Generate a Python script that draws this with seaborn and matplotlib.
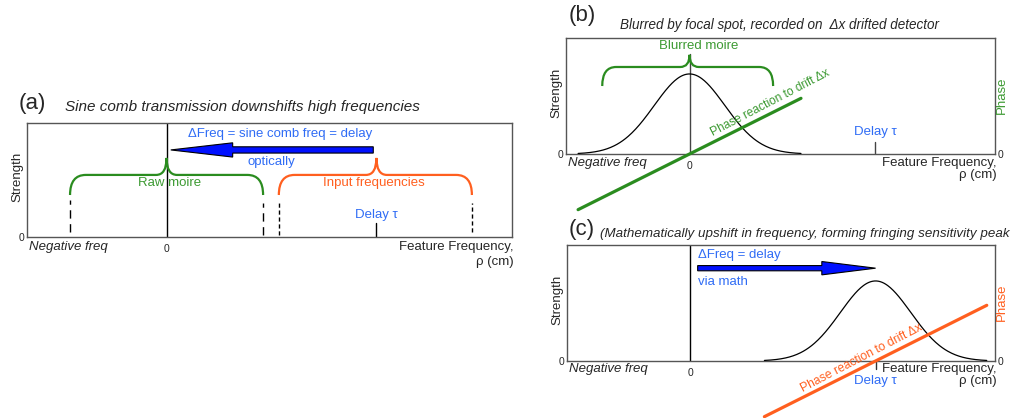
import numpy as np
import pandas as pd
import matplotlib
matplotlib.use("Agg")
import matplotlib.pyplot as plt
from matplotlib.path import Path
from matplotlib.patches import PathPatch, FancyArrow
import seaborn as sns

# ---- values of the sketch (frequency axis in units of the delay) ----
x_range = [-0.665, 1.645]
y_range = [0.0, 1.0]
delay = 1.0
bell_centers = {"b": 0.0, "c": 1.0}
bell_peak = 0.69
bell_sigma = 0.19
bell_halfspan = 0.6
phase_slope = 0.8
phase_halfspan = 0.6

raw_moire_span = [-0.46, 0.46]
input_freq_span = [0.535, 1.455]
blurred_moire_span = [-0.47, 0.45]

shift_a = [0.985, 0.02]     # optical downshift arrow (from, to)
shift_c = [0.04, 1.0]       # mathematical upshift arrow (from, to)

GREEN = "#2a8c1f"
GREEN_TXT = "#3c9a32"
ORANGE = "#ff5f1f"
BLUE_TXT = "#2f6cf5"
ARROW_BLUE = "#0010ff"
FRAME = "#555555"
LABEL_FS = 9.5
NOTE_FS = 9.5

sns.set_theme(style="white")
plt.rcParams["font.family"] = ["Liberation Sans", "DejaVu Sans"]

fig = plt.figure(figsize=(10.12, 4.18), dpi=100)
ax_a = fig.add_axes([0.0267, 0.433, 0.479, 0.273])
ax_b = fig.add_axes([0.5593, 0.6316, 0.424, 0.2775])
ax_c = fig.add_axes([0.5603, 0.1364, 0.423, 0.2775])


def frame(ax, label_y, unit_y, right_phase=None):
    ax.set_xlim(*x_range)
    ax.set_ylim(*y_range)
    for s in ax.spines.values():
        s.set_color(FRAME)
        s.set_linewidth(1.0)
    ax.set_xticks([0])
    ax.set_xticklabels(["0"], fontsize=7.5)
    ax.set_yticks([0])
    ax.set_yticklabels(["0"], fontsize=7.5)
    ax.tick_params(axis="x", length=0, pad=5)
    ax.tick_params(axis="y", length=0, pad=2)
    ax.text(0.005, label_y, "Negative freq", transform=ax.transAxes,
            fontsize=LABEL_FS, style="italic", ha="left", va="center")
    ax.text(1.003, label_y, "Feature Frequency,", transform=ax.transAxes,
            fontsize=LABEL_FS, ha="right", va="center")
    ax.text(1.003, unit_y, "\u03c1 (cm)", transform=ax.transAxes,
            fontsize=LABEL_FS, ha="right", va="center")
    if right_phase is not None:
        axr = ax.twinx()
        axr.set_ylim(*y_range)
        axr.set_yticks([0])
        axr.set_yticklabels(["0"], fontsize=7.5)
        axr.tick_params(axis="y", length=0, pad=1.5)
        for s in axr.spines.values():
            s.set_visible(False)
        ax.text(1.016, 0.51, "Phase", transform=ax.transAxes, color=right_phase,
                fontsize=LABEL_FS, rotation=90, ha="center", va="center")


def strength_label(ax):
    ax.set_xlabel("")
    ax.set_ylabel("Strength", fontsize=LABEL_FS)
    ax.yaxis.set_label_coords(-0.008, 0.53)


def brace(ax, x0, x1, xc, y_end, y_mid, y_tip, rx, rt, color, lw=1.6):
    verts = [(x0, y_end), (x0, y_mid), (x0 + rx, y_mid),
             (xc - rt, y_mid),
             (xc, y_mid), (xc, y_tip),
             (xc, y_mid), (xc + rt, y_mid),
             (x1 - rx, y_mid),
             (x1, y_mid), (x1, y_end)]
    codes = [Path.MOVETO, Path.CURVE3, Path.CURVE3,
             Path.LINETO,
             Path.CURVE3, Path.CURVE3,
             Path.CURVE3, Path.CURVE3,
             Path.LINETO,
             Path.CURVE3, Path.CURVE3]
    ax.add_patch(PathPatch(Path(verts, codes), fill=False, edgecolor=color,
                           linewidth=lw, capstyle="butt", zorder=3))


def bell(center):
    x = np.linspace(center - bell_halfspan, center + bell_halfspan, 241)
    y = bell_peak * np.exp(-0.5 * ((x - center) / bell_sigma) ** 2)
    return pd.DataFrame({"freq": x, "strength": y})


def phase_line(center):
    x = np.array([center - phase_halfspan, center + phase_halfspan])
    return pd.DataFrame({"freq": x, "phase": phase_slope * (x - center)})


def shift_arrow(ax, x_from, x_to, y, shaft, head_w, head_l):
    ax.add_patch(FancyArrow(x_from, y, x_to - x_from, 0, width=shaft,
                            head_width=head_w, head_length=head_l,
                            length_includes_head=True, facecolor=ARROW_BLUE,
                            edgecolor="black", linewidth=0.8, zorder=4))


# ---------------- (a) ----------------
frame(ax_a, -0.09, -0.22)
ax_a.axvline(0, color="black", lw=1.0, zorder=2)
ax_a.plot([delay, delay], [0, 0.123], color="black", lw=1.0)
brace(ax_a, raw_moire_span[0], raw_moire_span[1], 0.0, 0.368, 0.544, 0.693,
      0.075, 0.05, GREEN)
brace(ax_a, input_freq_span[0], input_freq_span[1], delay, 0.368, 0.544, 0.693,
      0.075, 0.05, ORANGE)
for xv, ylo, yhi, dash in [(raw_moire_span[0], 0.045, 0.325, (6, 4)),
                           (raw_moire_span[1], 0.02, 0.30, (6, 4)),
                           (input_freq_span[0], 0.02, 0.30, (3, 2)),
                           (input_freq_span[1], 0.045, 0.30, (3, 2))]:
    ax_a.plot([xv, xv], [ylo, yhi], color="black", lw=1.0, dashes=dash)
shift_arrow(ax_a, shift_a[0], shift_a[1], 0.763, 0.055, 0.125, 0.295)
strength_label(ax_a)
ax_a.text(0.54, 0.905, "\u0394Freq = sine comb freq = delay", color=BLUE_TXT,
          fontsize=NOTE_FS, ha="center", va="center")
ax_a.text(0.50, 0.655, "optically", color=BLUE_TXT, fontsize=NOTE_FS,
          ha="center", va="center")
ax_a.text(0.015, 0.47, "Raw moire", color=GREEN_TXT, fontsize=NOTE_FS,
          ha="center", va="center")
ax_a.text(0.99, 0.47, "Input frequencies", color=ORANGE, fontsize=NOTE_FS,
          ha="center", va="center")
ax_a.text(1.0, 0.19, "Delay \u03c4", color=BLUE_TXT, fontsize=NOTE_FS,
          ha="center", va="center")
fig.text(0.018, 0.752, "(a)", fontsize=16, ha="left", va="center")
fig.text(0.064, 0.745, "Sine comb transmission downshifts high frequencies",
         fontsize=11, style="italic", ha="left", va="center")

# ---------------- (b) ----------------
frame(ax_b, -0.08, -0.185, right_phase=GREEN_TXT)
ax_b.plot([0, 0], [0, 0.86], color="#444444", lw=1.0, zorder=2)
ax_b.plot([delay, delay], [0, 0.10], color="#444444", lw=1.0)
sns.lineplot(data=bell(bell_centers["b"]), x="freq", y="strength", ax=ax_b,
             color="black", lw=0.9, zorder=3)
sns.lineplot(data=phase_line(bell_centers["b"]), x="freq", y="phase", ax=ax_b,
             color=GREEN, lw=2.3, zorder=4, clip_on=False)
brace(ax_b, blurred_moire_span[0], blurred_moire_span[1], 0.0, 0.586, 0.75, 0.855,
      0.075, 0.05, GREEN)
strength_label(ax_b)
ax_b.text(0.05, 0.935, "Blurred moire", color=GREEN_TXT, fontsize=NOTE_FS,
          ha="center", va="center")
ax_b.text(1.0, 0.19, "Delay \u03c4", color=BLUE_TXT, fontsize=NOTE_FS,
          ha="center", va="center")
ax_b.text(0.435, 0.44, "Phase reaction to drift \u0394x", color=GREEN_TXT,
          fontsize=8.6, ha="center", va="center", rotation=27.5,
          rotation_mode="anchor")
fig.text(0.562, 0.962, "(b)", fontsize=16, ha="left", va="center")
fig.text(0.613, 0.94, "Blurred by focal spot, recorded on  \u0394x drifted detector",
         fontsize=9.75, style="italic", ha="left", va="center")

# ---------------- (c) ----------------
frame(ax_c, -0.065, -0.175, right_phase=ORANGE)
ax_c.axvline(0, color="black", lw=1.0, zorder=2)
ax_c.plot([delay, delay], [0, -0.07], color="#333333", lw=1.0, clip_on=False)
sns.lineplot(data=bell(bell_centers["c"]), x="freq", y="strength", ax=ax_c,
             color="black", lw=0.9, zorder=3)
sns.lineplot(data=phase_line(bell_centers["c"]), x="freq", y="phase", ax=ax_c,
             color=ORANGE, lw=2.3, zorder=4, clip_on=False)
strength_label(ax_c)
shift_arrow(ax_c, shift_c[0], shift_c[1], 0.80, 0.045, 0.115, 0.29)
ax_c.text(0.04, 0.915, "\u0394Freq = delay", color=BLUE_TXT, fontsize=NOTE_FS,
          ha="left", va="center")
ax_c.text(0.04, 0.685, "via math", color=BLUE_TXT, fontsize=NOTE_FS,
          ha="left", va="center")
ax_c.text(1.0, -0.17, "Delay \u03c4", color=BLUE_TXT, fontsize=NOTE_FS,
          ha="center", va="center")
ax_c.text(0.925, 0.026, "Phase reaction to drift \u0394x", color=ORANGE,
          fontsize=8.7, ha="center", va="center", rotation=27.5,
          rotation_mode="anchor")
fig.text(0.562, 0.452, "(c)", fontsize=16, ha="left", va="center")
fig.text(0.593, 0.44, "(Mathematically upshift in frequency, forming fringing sensitivity peak",
         fontsize=9.6, style="italic", ha="left", va="center")

fig.savefig("out.png", dpi=100)
